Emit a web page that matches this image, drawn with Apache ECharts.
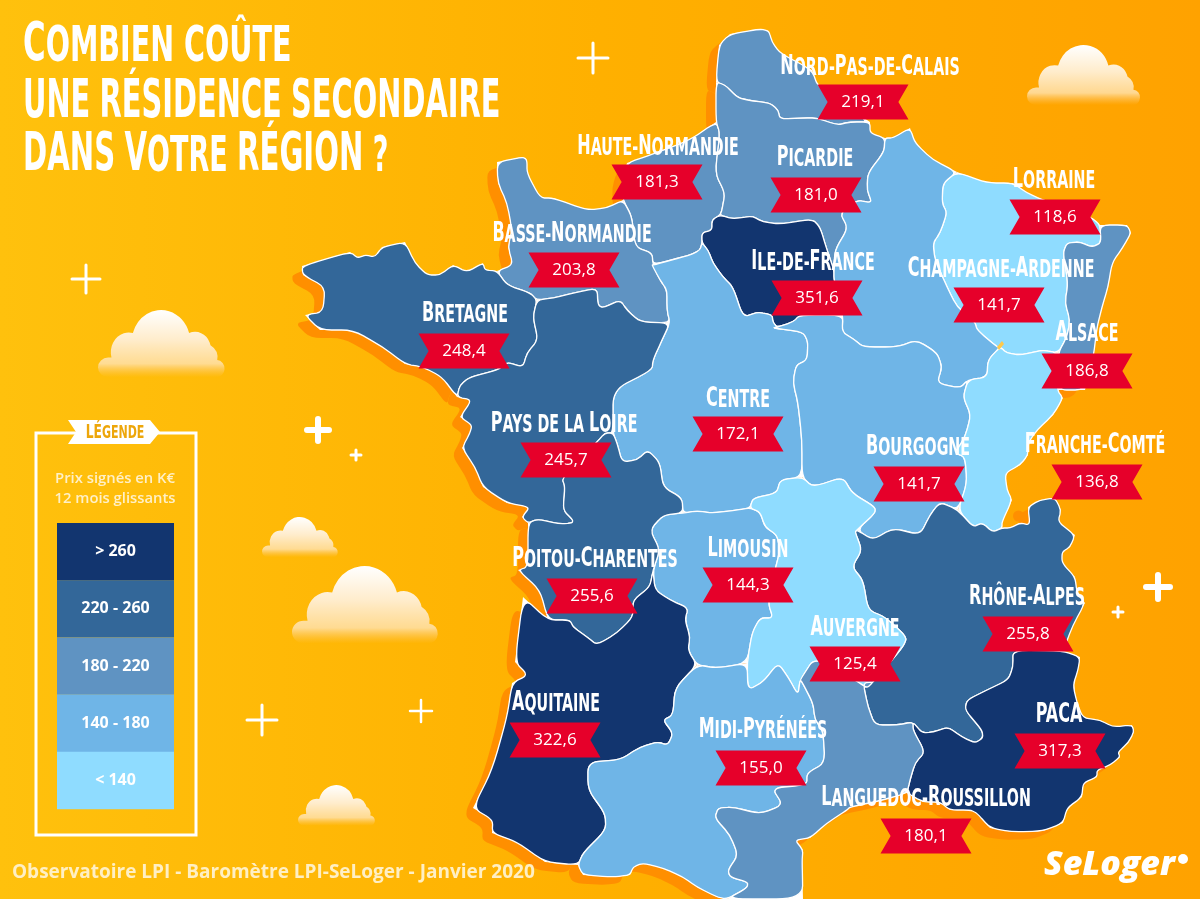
<!DOCTYPE html>
<html lang="fr">
<head>
<meta charset="UTF-8" />
<title>Combien coûte une résidence secondaire dans votre région ?</title>
<style>html,body{margin:0;padding:0;background:#ffb000}</style>
</head>
<body>
<div id="main" style="width:1200px;height:899px"></div>
<script src="https://cdnjs.cloudflare.com/ajax/libs/echarts/6.0.0/echarts.min.js"></script>
<script>
// prix signes en K euros
const regionNames = ['Nord-Pas-de-Calais','Haute-Normandie','Picardie','Lorraine','Basse-Normandie','Ile-de-France','Champagne-Ardenne','Bretagne','Alsace','Centre','Pays de la Loire','Bourgogne','Franche-Comté','Limousin','Poitou-Charentes','Rhône-Alpes','Auvergne','Aquitaine','PACA','Midi-Pyrénées','Languedoc-Roussillon']
const regionValues = [219.1,181.3,181.0,118.6,203.8,351.6,141.7,248.4,186.8,172.1,245.7,141.7,136.8,144.3,255.6,255.8,125.4,322.6,317.3,155.0,180.1]

// ou poser le nom et le ruban de chaque region
const nameAnchors = [[870,66],[658,146],[815,157],[1054,179],[572,233],[813,261],[1001,268],[465,313],[1087,332],[738,398],[564,423],[918,446],[1095,444],[748,548],[595,558],[1027,596],[855,627],[556,702],[1059,714],[763,729],[926,797]]
const ribbonAnchors = [[863,102],[657,182],[816,195],[1055,217],[574,270],[817,298],[999,305],[464,351],[1087,371],[738,434],[566,460],[919,484],[1097,482],[748,585],[592,596],[1028,634],[855,664],[555,740],[1060,751],[761,768],[926,836]]

// contours des regions (fond de carte, memes indices que regionNames)
const regionShapes = [
  '719,45 730,34 760,29 769,31 772,42 780,53 812,70 818,87 870,122 850,122 837,125 817,118 803,118 780,119 778,110 770,103 753,101 738,98 725,85 716,82',
  '623,200 622,180 627,163 650,155 690,140 716,122 720,133 715,173 725,193 722,210 720,215 712,220 712,230 702,233 702,243 700,250 690,255 653,265 652,253 635,247 632,217',
  '716,82 725,85 738,98 753,101 770,103 778,110 780,119 803,118 817,118 837,125 850,122 870,122 870,133 885,138 884,152 868,173 867,190 872,203 857,200 840,213 848,228 835,250 834,270 827,250 820,227 812,219 780,224 763,222 752,216 733,219 720,215 722,210 725,193 715,173 720,133 716,122',
  '957,172 987,183 1013,183 1027,193 1043,200 1092,218 1100,225 1101,243 1092,247 1080,242 1067,243 1063,253 1068,283 1065,303 1070,320 1067,337 1058,353 1043,350 1020,355 1007,353 1000,347 997,347 977,330 975,322 957,307 947,287 935,260 933,243 940,233 947,213 942,203 943,183',
  '497,162 523,157 527,160 527,173 540,198 553,198 587,210 607,208 623,200 632,217 635,247 652,253 653,265 660,280 667,290 667,310 670,323 640,322 627,310 620,300 603,308 598,305 597,288 573,293 553,298 537,300 530,293 507,285 497,271 513,265 508,247 512,230 507,203 498,183',
  '712,220 720,215 733,219 752,216 763,222 780,224 812,219 820,227 827,250 834,270 834,280 843,315 800,315 793,322 777,327 773,322 772,315 758,312 743,317 733,287 723,277 713,263 708,250 702,243 702,233 712,230',
  '885,138 893,138 910,128 915,143 933,160 957,172 943,183 942,203 947,213 940,233 933,243 935,260 947,287 957,307 975,322 977,330 997,347 1000,347 988,360 987,377 968,380 960,388 937,383 942,367 937,353 917,340 897,347 863,347 855,340 842,332 843,315 834,280 834,270 835,250 848,228 840,213 857,200 872,203 867,190 868,173 884,152',
  '302,266 350,252 358,258 365,255 375,257 382,247 405,242 415,263 427,275 440,275 453,265 467,272 483,263 485,270 497,271 507,285 530,293 537,300 533,317 538,340 527,353 523,367 507,362 498,370 470,377 460,385 457,397 442,377 423,367 405,364 383,347 353,330 320,330 305,315 323,312 325,287 303,275',
  '1100,225 1127,225 1131,233 1123,247 1112,263 1108,287 1102,307 1097,327 1093,360 1085,390 1057,390 1058,353 1067,337 1070,320 1065,303 1068,283 1063,253 1067,243 1080,242 1092,247 1101,243',
  '652,265 653,265 690,255 700,250 702,243 708,250 713,263 723,277 733,287 743,317 758,312 772,315 773,322 777,327 773,328 803,332 808,342 807,360 796,365 793,383 798,403 802,440 802,477 780,480 777,493 753,498 750,508 737,510 713,513 697,511 683,513 682,498 663,487 660,463 648,450 637,460 622,462 617,443 613,433 613,390 652,370 653,360 662,340 670,323 667,310 667,290 660,280',
  '457,397 460,385 470,377 498,370 507,362 523,367 527,353 538,340 533,317 537,300 553,298 573,293 597,288 598,305 603,308 620,300 627,310 640,322 670,323 662,340 653,360 652,370 613,390 613,433 605,433 597,442 562,478 565,487 563,510 573,520 572,523 560,524 538,519 528,523 522,517 530,507 507,503 483,487 475,467 462,448 470,433 472,425 460,417 472,400',
  '773,328 777,327 793,322 800,315 843,315 842,332 855,340 863,347 897,347 917,340 937,353 942,367 937,383 960,388 968,380 963,397 971,415 965,437 955,453 965,457 967,483 958,510 940,502 930,515 920,535 893,528 873,540 857,530 875,513 875,507 852,493 843,477 813,487 802,477 802,440 798,403 793,383 796,365 807,360 808,342 803,332',
  '1000,347 1007,353 1020,355 1043,350 1058,353 1057,390 1063,398 1053,415 1037,430 1028,443 1028,455 1020,465 1005,473 1007,490 1012,500 1002,522 1002,528 993,532 982,523 973,527 958,510 967,483 965,457 955,453 965,437 971,415 963,397 968,380 987,377 988,360',
  '683,513 697,511 713,513 737,510 750,508 760,512 765,527 777,535 780,550 775,570 768,603 773,618 760,618 752,633 747,663 717,668 697,665 688,650 690,637 685,620 688,608 670,600 655,590 653,570 660,550 650,530 663,515',
  '528,523 538,519 560,524 572,523 573,520 563,510 565,487 562,478 597,442 605,433 613,433 617,443 622,462 637,460 648,450 660,463 663,487 682,498 683,513 663,515 650,530 660,550 653,570 650,587 633,600 633,617 617,633 597,645 587,637 573,627 570,620 548,620 540,590 518,570 528,567',
  '857,530 873,540 893,528 920,535 930,515 940,502 958,510 973,527 982,523 993,532 1002,528 1010,528 1020,523 1030,525 1028,507 1040,500 1055,498 1061,510 1058,522 1075,535 1070,547 1062,552 1062,563 1075,577 1077,593 1085,603 1073,625 1063,651 1013,650 1013,667 1008,680 987,690 967,700 965,710 982,730 983,738 975,743 962,737 948,727 933,732 922,733 913,722 897,725 875,725 868,707 863,683 873,682 903,647 907,637 885,617 868,610 863,580 852,567 862,550 855,532',
  '750,508 753,498 777,493 780,480 802,477 813,487 843,477 852,493 875,507 875,513 857,530 855,532 862,550 852,567 863,580 868,610 885,617 907,637 903,647 873,682 867,688 858,682 815,657 800,680 798,695 788,677 778,663 763,682 748,690 747,663 752,633 760,618 773,618 768,603 775,570 780,550 777,535 765,527 760,512',
  '523,597 548,620 570,620 573,627 587,637 597,645 617,633 633,617 633,600 650,587 653,570 655,590 670,600 688,608 685,620 690,637 688,650 697,665 675,688 673,715 663,720 673,733 668,745 657,742 640,747 620,760 588,762 588,790 605,813 606,830 583,853 578,865 545,862 517,842 492,833 493,820 473,808 492,770 507,717 512,683 528,675 515,662',
  '1013,650 1063,651 1080,657 1078,670 1073,685 1077,703 1083,718 1100,720 1113,727 1132,725 1134,732 1128,743 1118,752 1120,757 1110,765 1097,770 1097,777 1083,783 1082,797 1067,808 1063,823 1043,831 1013,832 990,828 977,813 970,810 950,810 940,802 923,802 907,793 910,780 915,763 925,752 913,730 913,722 922,733 933,732 948,727 962,737 975,743 983,738 982,730 965,710 967,700 987,690 1008,680 1013,667',
  '697,665 717,668 747,663 748,690 763,682 778,663 788,677 798,695 800,680 802,682 813,703 815,720 823,730 825,763 807,773 807,785 772,788 783,805 760,814 733,807 718,808 715,818 730,835 738,855 728,870 730,877 748,882 747,888 727,899 717,897 697,887 683,877 663,868 643,863 633,867 630,875 613,877 583,875 578,865 583,853 606,830 605,813 588,790 588,762 620,760 640,747 657,742 668,745 673,733 663,720 673,715 675,688',
  '800,680 815,657 858,682 867,688 873,682 863,683 868,707 875,725 897,725 913,722 913,730 925,752 915,763 910,780 907,793 883,800 850,807 847,810 827,823 810,838 795,840 803,850 802,860 803,899 727,899 747,888 748,882 730,877 728,870 738,855 730,835 715,818 718,808 733,807 760,814 783,805 772,788 807,785 807,773 825,763 823,730 815,720 813,703 802,682'
]

// legende
const legendLabels = ['> 260','220 - 260','180 - 220','140 - 180','< 140']
const legendColors = ['#12356f','#336799','#5f93c2','#6fb5e7','#8fdcff']

// decor : [x, y, echelle] pour les nuages, [x, y, bras, epaisseur] pour les etoiles
const clouds = [[1027,45,1],[98,310,1.12],[262,517,0.67],[292,566,1.29],[298,785,0.68]]
const sparkles = [[593,58,15,3],[86,279,14,3],[262,720,15,3],[421,711,11,2.5],[318,430,11,6],[356,455,5,3],[1158,587,12,6],[1118,612,5,3]]

const narrowFont = '"DejaVu Sans Condensed","DejaVu Sans",sans-serif'
const bodyFont = '"Open Sans",sans-serif'

const straightPath = s => 'M' + s.replace(/ /g, ' L') + ' Z'
// contour arrondi aux sommets, pour retrouver le trace souple de la carte
function shapePath(s) {
  const pts = s.split(' ').map(p => p.split(',').map(Number))
  const n = pts.length
  const t = 0.35
  let d = ''
  pts.forEach((cur, i) => {
    const prev = pts[(i + n - 1) % n]
    const next = pts[(i + 1) % n]
    const a = [cur[0] + (prev[0] - cur[0]) * t, cur[1] + (prev[1] - cur[1]) * t]
    const b = [cur[0] + (next[0] - cur[0]) * t, cur[1] + (next[1] - cur[1]) * t]
    d += (i ? 'L' : 'M') + a[0].toFixed(1) + ' ' + a[1].toFixed(1)
      + 'Q' + cur[0] + ' ' + cur[1] + ' ' + b[0].toFixed(1) + ' ' + b[1].toFixed(1)
  })
  return d + 'Z'
}

const svg = '<svg xmlns="http://www.w3.org/2000/svg" viewBox="0 0 1200 899" width="1200" height="899">'
  + '<g transform="translate(-10,8)" fill="#ff8f00" stroke="none">'
  + regionShapes.map(s => '<path d="' + shapePath(s) + '"/>').join('') + '</g>'
  // sous-couche blanche non arrondie : bouche les jonctions entre regions
  + '<g fill="#fff" stroke="none">'
  + regionShapes.map(s => '<path d="' + straightPath(s) + '"/>').join('') + '</g>'
  + regionShapes.map((s, i) => '<path name="' + regionNames[i] + '" d="' + shapePath(s) + '"/>').join('')
  + '<path fill="#ffc94a" d="M997 347 L1002 341 L1004 344 L999 350 Z"/>'
  + '<path fill="#ff8f00" d="M1013 516 a5.5 5.5 0 1 0 11 0 a5.5 5.5 0 1 0 -11 0Z"/>'
  + '</svg>'
echarts.registerMap('france', { svg: svg })

// petites capitales : minuscules en {s|}, majuscules en {b|}
function smallCaps(str) {
  return str.split(/([A-ZÉÎ]+)/).filter(p => p).map(p =>
    /^[A-ZÉÎ]+$/.test(p) ? '{b|' + p + '}' : '{s|' + p.toUpperCase() + '}'
  ).join('')
}
function capsRich(big, small, fill) {
  const base = { fontFamily: narrowFont, fontWeight: 'bold', fill: fill, lineHeight: big + 2, verticalAlign: 'bottom' }
  return { b: { ...base, fontSize: big }, s: { ...base, fontSize: small } }
}

const cloudPath = 'M9 60 A9 8 0 0 1 9 44 L12 44 A16 16 0 0 1 31 24 A26 26 0 0 1 81 24 A14 14 0 0 1 100 34 A14 12 0 0 1 106 46 A7 7 0 0 1 105 60 Z'
const cloudFill = new echarts.graphic.LinearGradient(0, 0, 0, 1, [
  { offset: 0, color: '#ffffff' }, { offset: 0.45, color: '#ffeccb' },
  { offset: 0.8, color: 'rgba(255,225,170,0.85)' }, { offset: 1, color: 'rgba(255,200,110,0)' }
])
const titleLine = (str, y, sx) => ({
  type: 'text', x: 23, y: y, scaleX: sx, silent: true,
  style: { text: smallCaps(str), rich: capsRich(54, 50, '#fff'), verticalAlign: 'middle' }
})

const graphics = [
  titleLine('Combien coûte', 45, 0.635),
  titleLine('UNE RÉSIDENCE SECONDAIRE', 102, 0.594),
  titleLine('DANS Votre RÉGION ?', 155, 0.6),
  // cadre de la legende
  { type: 'rect', shape: { x: 36, y: 433, width: 160, height: 402 }, style: { fill: null, stroke: '#fff', lineWidth: 3 } },
  { type: 'polygon', shape: { points: [[68, 420], [150, 420], [160, 432], [150, 444], [68, 444], [76, 432]] }, style: { fill: '#fff' } },
  { type: 'text', x: 115, y: 432, scaleX: 0.72, style: { text: smallCaps('LÉgende'), rich: capsRich(19, 17, '#eda60a'), align: 'center', verticalAlign: 'middle' } },
  { type: 'text', x: 115, y: 489, style: { text: 'Prix signés en K€\n12 mois glissants', fill: '#fff0c8', font: '600 14.8px ' + bodyFont, lineHeight: 20, align: 'center', verticalAlign: 'middle' } },
  { type: 'text', x: 12, y: 873, z: 100, style: { text: 'Observatoire LPI - Baromètre LPI-SeLoger - Janvier 2020', fill: '#ffefc4', font: '700 19px ' + bodyFont, verticalAlign: 'middle' } },
  { type: 'text', x: 1044, y: 865, style: { text: 'SeLoger', fill: '#fff', font: 'italic 800 34px ' + bodyFont, verticalAlign: 'middle' } },
  { type: 'circle', shape: { cx: 1183, cy: 859, r: 5 }, style: { fill: '#fff' } }
]
legendLabels.forEach((label, i) => {
  graphics.push({
    type: 'rect', shape: { x: 57, y: 523 + i * 57.2, width: 117, height: 57.4 },
    style: { fill: legendColors[i] },
    textContent: { style: { text: label, fill: '#fff', font: '700 16px ' + bodyFont } },
    textConfig: { position: 'inside' }
  })
})

const option = {
  animation: false,
  backgroundColor: new echarts.graphic.LinearGradient(0, 0, 1, 0, [
    { offset: 0, color: '#ffc10d' }, { offset: 0.5, color: '#ffb000' }, { offset: 1, color: '#ffa200' }
  ]),
  graphic: graphics,
  visualMap: {
    show: false,
    type: 'piecewise',
    seriesIndex: 0,
    pieces: [
      { min: 260, color: legendColors[0] },
      { min: 220, max: 260, color: legendColors[1] },
      { min: 180, max: 220, color: legendColors[2] },
      { min: 140, max: 180, color: legendColors[3] },
      { max: 140, color: legendColors[4] }
    ]
  },
  geo: {
    map: 'france',
    left: 0, top: 0, right: 0, bottom: 0,
    roam: false,
    silent: true,
    label: { show: false },
    itemStyle: { borderColor: '#fff', borderWidth: 1.3 },
    emphasis: { disabled: true }
  },
  series: [
    {
      type: 'map',
      geoIndex: 0,
      silent: true,
      data: regionNames.map((name, i) => ({ name: name, value: regionValues[i] }))
    },
    {
      type: 'scatter',
      coordinateSystem: 'geo',
      silent: true,
      z: 10,
      symbol: 'path://M0 0 L90 0 L80 17 L90 34 L0 34 L10 17 Z',
      symbolSize: [91, 35],
      itemStyle: { color: '#e6002a', opacity: 1 },
      label: {
        show: true, position: 'inside', color: '#fff',
        fontFamily: bodyFont, fontSize: 17, fontWeight: 500,
        formatter: p => p.value[2].toFixed(1).replace('.', ',')
      },
      data: regionValues.map((v, i) => ({ value: [ribbonAnchors[i][0], ribbonAnchors[i][1], v] }))
    },
    {
      type: 'custom',
      coordinateSystem: 'geo',
      silent: true,
      z: 11,
      renderItem: (params, api) => {
        const c = api.coord([api.value(0), api.value(1)])
        const name = regionNames[params.dataIndex]
        return {
          type: 'text', x: c[0], y: c[1], scaleX: 0.66,
          style: {
            text: name === 'PACA' ? '{b|PACA}' : smallCaps(name),
            rich: capsRich(27, 24, '#fff'),
            align: 'center', verticalAlign: 'middle'
          }
        }
      },
      data: nameAnchors
    },
    {
      type: 'custom',
      coordinateSystem: 'none',
      silent: true,
      z: 1,
      renderItem: (params, api) => {
        const c = clouds[params.dataIndex]
        return {
          type: 'path',
          shape: { pathData: cloudPath, x: c[0], y: c[1], width: 113 * c[2], height: 60 * c[2], layout: 'cover' },
          style: { fill: cloudFill }
        }
      },
      data: clouds
    },
    {
      type: 'custom',
      coordinateSystem: 'none',
      silent: true,
      z: 1,
      renderItem: (params, api) => {
        const s = sparkles[params.dataIndex]
        const l = s[2]
        return {
          type: 'path',
          shape: {
            pathData: 'M' + l + ' 0 L' + l + ' ' + 2 * l + ' M0 ' + l + ' L' + 2 * l + ' ' + l,
            x: s[0] - l, y: s[1] - l, width: 2 * l, height: 2 * l, layout: 'cover'
          },
          style: { fill: 'none', stroke: '#fff', lineWidth: s[3], lineCap: 'round' }
        }
      },
      data: sparkles
    }
  ]
}
echarts.init(document.querySelector('#main')).setOption(option)
</script>
</body>
</html>
